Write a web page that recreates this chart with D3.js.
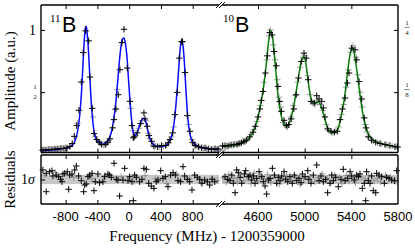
<!DOCTYPE html>
<html><head><meta charset="utf-8">
<script src="https://cdn.jsdelivr.net/npm/d3@7"></script>
<style>
html,body{margin:0;padding:0;background:#fff;}
svg{display:block;}
.serif{font-family:"Liberation Serif","Times New Roman",serif;}
.sans{font-family:"Liberation Sans",Arial,sans-serif;}
</style></head>
<body>
<svg id="chart" width="415" height="249"></svg>
<script>
// ---------------- DATA ----------------
const ticksLeft = [-800, -400, 0, 400, 800];
const ticksRight = [4600, 5000, 5400, 5800];
const domainLeft = [-1110, 1131];
const domainRight = [4291, 5800];
const ampTicksLeft = [1, 0.5];
const ampTicksRight = [0.25, 0.125];

// 11B measured points (scan A, black): [MHz, amplitude]
const b11ScanA = [[-1085,0.035],[-1048,0.035],[-1010,0.039],[-972,0.039],[-934,0.043],[-897,0.043],[-859,0.047],[-821,0.047],[-783,0.051],[-746,0.063],[-717,0.087],[-691,0.145],[-661,0.231],[-632,0.354],[-603,0.581],[-578,0.818],[-548,0.992],[-510,0.912],[-494,0.621],[-465,0.370],[-443,0.167],[-409,0.119],[-377,0.097],[-346,0.079],[-301,0.079],[-271,0.097],[-242,0.125],[-208,0.213],[-191,0.279],[-166,0.365],[-137,0.479],[-116,0.680],[-91,0.898],[-65,1.005],[-24,0.693],[10,0.426],[35,0.231],[52,0.133],[64,0.141],[102,0.173],[145,0.247],[186,0.333],[199,0.285],[228,0.226],[249,0.151],[283,0.105],[312,0.065],[359,0.061],[409,0.071],[460,0.071],[492,0.093],[514,0.119],[548,0.173],[577,0.319],[606,0.498],[631,0.773],[661,0.906],[672,0.905],[703,0.658],[732,0.311],[766,0.185],[800,0.097],[829,0.071],[871,0.061],[913,0.053],[955,0.053],[996,0.045],[1039,0.039],[1081,0.045],[1118,0.043]];
// 11B measured points (scan B, grey)
const b11ScanB = [[-1100,0.032],[-1065,0.036],[-1030,0.037],[-990,0.040],[-950,0.041],[-915,0.045],[-875,0.046],[-840,0.050],[-800,0.055],[-650,0.25],[-455,0.30],[-425,0.14],[-390,0.105],[-360,0.09],[-320,0.075],[-285,0.085],[-255,0.11],[-180,0.36],[-150,0.52],[20,0.37],[45,0.19],[80,0.15],[120,0.21],[160,0.27],[210,0.27],[240,0.17],[265,0.125],[300,0.075],[335,0.065],[385,0.062],[430,0.066],[475,0.077],[530,0.14],[560,0.22],[750,0.24],[790,0.12],[815,0.085],[845,0.067],[890,0.058],[935,0.050],[975,0.047],[1020,0.043],[1060,0.041],[1100,0.040],[1130,0.038]];
// 11B fit
const b11Fit = [[-1110,0.030],[-1000,0.034],[-900,0.040],[-800,0.050],[-750,0.060],[-700,0.085],[-670,0.13],[-640,0.22],[-620,0.33],[-600,0.50],[-580,0.74],[-565,0.92],[-550,1.02],[-540,1.03],[-530,0.98],[-515,0.86],[-500,0.68],[-485,0.50],[-470,0.35],[-450,0.22],[-430,0.15],[-400,0.11],[-370,0.088],[-340,0.080],[-310,0.085],[-280,0.10],[-250,0.13],[-220,0.19],[-200,0.26],[-180,0.35],[-160,0.47],[-140,0.62],[-120,0.77],[-100,0.88],[-80,0.93],[-65,0.935],[-50,0.90],[-30,0.80],[-10,0.62],[10,0.43],[30,0.28],[50,0.18],[70,0.15],[90,0.16],[110,0.19],[130,0.23],[150,0.265],[175,0.29],[195,0.285],[215,0.25],[235,0.19],[255,0.14],[280,0.10],[310,0.075],[350,0.065],[400,0.063],[450,0.068],[490,0.085],[520,0.12],[545,0.17],[565,0.25],[585,0.37],[605,0.52],[625,0.70],[640,0.83],[655,0.91],[665,0.915],[680,0.86],[695,0.74],[710,0.57],[725,0.41],[740,0.28],[760,0.18],[780,0.125],[810,0.09],[850,0.07],[900,0.057],[950,0.050],[1000,0.045],[1050,0.042],[1100,0.040],[1131,0.039]];

// 10B measured points (scan A, black)
const b10ScanA = [[4295,0.0168],[4317,0.0178],[4343,0.0168],[4369,0.0188],[4394,0.0198],[4420,0.0198],[4437,0.0218],[4457,0.0232],[4480,0.0258],[4500,0.0284],[4529,0.0352],[4557,0.0444],[4577,0.0564],[4600,0.0752],[4615,0.0912],[4628,0.1084],[4643,0.1264],[4663,0.1633],[4680,0.1979],[4700,0.2445],[4720,0.2399],[4737,0.2065],[4757,0.1779],[4771,0.1364],[4786,0.1064],[4800,0.0864],[4823,0.0684],[4843,0.0578],[4863,0.0598],[4884,0.0712],[4907,0.0912],[4927,0.1198],[4947,0.1533],[4971,0.1865],[4994,0.2033],[5014,0.1933],[5031,0.1499],[5054,0.1064],[5082,0.1032],[5103,0.1178],[5123,0.1112],[5146,0.1064],[5160,0.0932],[5174,0.0752],[5197,0.0512],[5226,0.0464],[5254,0.0444],[5280,0.0464],[5303,0.0698],[5323,0.0912],[5346,0.1132],[5366,0.1433],[5380,0.1633],[5403,0.2133],[5432,0.2099],[5446,0.1899],[5466,0.1464],[5489,0.1112],[5511,0.0732],[5526,0.0532],[5545,0.0352],[5574,0.0284],[5609,0.0244],[5646,0.0218],[5689,0.0198],[5731,0.0178],[5774,0.0152],[5797,0.0148]];
// 10B measured points (scan B, grey)
const b10ScanB = [[4300,0.017],[4330,0.0165],[4355,0.019],[4385,0.018],[4410,0.021],[4445,0.022],[4470,0.027],[4490,0.026],[4510,0.031],[4540,0.040],[4565,0.050],[4590,0.066],[4620,0.098],[4650,0.145],[4675,0.19],[4695,0.238],[4705,0.25],[4730,0.22],[4745,0.19],[4765,0.15],[4780,0.115],[4795,0.095],[4815,0.064],[4833,0.060],[4850,0.054],[4880,0.075],[4900,0.098],[4920,0.118],[4940,0.145],[4960,0.175],[4985,0.195],[5000,0.198],[5025,0.158],[5045,0.12],[5070,0.103],[5090,0.100],[5110,0.108],[5135,0.100],[5155,0.088],[5185,0.060],[5205,0.048],[5235,0.043],[5260,0.047],[5290,0.055],[5315,0.080],[5335,0.100],[5355,0.135],[5375,0.17],[5395,0.205],[5415,0.218],[5440,0.195],[5455,0.16],[5475,0.125],[5495,0.095],[5520,0.060],[5535,0.045],[5560,0.033],[5590,0.027],[5625,0.023],[5660,0.021],[5700,0.019],[5715,0.018],[5750,0.017],[5785,0.0155]];
// 10B fit
const b10Fit = [[4291,0.016],[4350,0.017],[4420,0.019],[4480,0.024],[4520,0.032],[4550,0.042],[4580,0.058],[4610,0.085],[4630,0.11],[4650,0.14],[4670,0.18],[4685,0.215],[4700,0.242],[4712,0.248],[4725,0.235],[4740,0.20],[4755,0.16],[4770,0.12],[4790,0.088],[4810,0.068],[4830,0.058],[4850,0.056],[4870,0.064],[4890,0.08],[4910,0.102],[4930,0.13],[4950,0.16],[4970,0.185],[4990,0.196],[5005,0.19],[5020,0.165],[5040,0.13],[5060,0.108],[5080,0.102],[5100,0.105],[5115,0.106],[5130,0.102],[5150,0.09],[5170,0.073],[5190,0.057],[5210,0.047],[5240,0.043],[5270,0.046],[5295,0.058],[5320,0.085],[5345,0.12],[5365,0.16],[5385,0.195],[5405,0.215],[5420,0.208],[5440,0.18],[5460,0.145],[5480,0.11],[5500,0.08],[5520,0.058],[5545,0.042],[5580,0.030],[5620,0.024],[5680,0.020],[5740,0.017],[5800,0.015]];

// residuals in units of sigma
const resLeftA = [[-1086,2.06],[-1044,-2.64],[-1044,1.34],[-1001,1.69],[-972,1.90],[-960,0.76],[-918,0.97],[-888,0.61],[-863,0.04],[-846,-0.48],[-834,1.19],[-812,1.34],[-780,1.69],[-762,-2.12],[-749,0.97],[-720,1.19],[-686,2.06],[-666,2.92],[-636,0.76],[-603,-0.26],[-573,-2.64],[-560,-1.19],[-540,-0.97],[-519,0.61],[-497,0.97],[-468,1.34],[-443,-2.42],[-427,-0.48],[-393,1.19],[-372,-0.69],[-330,-0.48],[-309,0.61],[-267,1.19],[-246,0.97],[-225,0.48],[-191,3.51],[-162,0.04],[-141,-0.11],[-120,-3.57],[-78,-0.11],[-57,2.42],[-15,-0.26],[6,0.61],[35,-0.48],[52,-4.59],[69,0.97],[90,0.48],[132,-0.48],[161,0.04],[186,2.42],[216,2.21],[246,-0.82],[278,-1.41],[312,-1.91],[341,-0.48],[363,-0.11],[397,1.90],[426,0.26],[455,0.61],[489,-1.56],[522,0.97],[552,1.47],[581,0.97],[615,-0.26],[648,-0.48],[678,2.77],[699,0.76],[732,0.04],[762,-0.48],[791,-2.27],[825,0.97],[858,0.48],[888,0.04],[917,-0.82],[951,-0.11],[984,-0.48],[1014,-1.19],[1043,0.04],[1077,-0.48]];
const resLeftB = [[-1070,1.0],[-930,1.5],[-700,0.4],[-480,0.2],[-300,0.9],[-100,0.6],[60,-0.5],[200,0.9],[330,0.2],[470,-0.9],[600,1.2],[760,0.3],[900,-0.6],[1050,0.3],[1110,-0.2]];
const resRightA = [[4317,0.61],[4340,0.04],[4360,-0.26],[4375,0.97],[4388,-0.82],[4403,-2.86],[4417,2.06],[4431,1.47],[4446,0.48],[4460,-0.82],[4483,1.19],[4494,1.90],[4517,0.61],[4531,0.97],[4546,-0.11],[4560,0.76],[4574,-0.82],[4589,0.26],[4609,1.69],[4632,0.61],[4645,-0.48],[4660,-1.41],[4674,-3.14],[4688,-0.11],[4703,0.26],[4723,2.42],[4740,0.97],[4760,-0.82],[4774,0.48],[4789,-0.26],[4803,0.76],[4823,1.69],[4837,0.04],[4855,-0.48],[4874,0.61],[4894,-0.82],[4911,0.97],[4932,-0.26],[4951,0.26],[4969,-0.69],[4980,1.19],[5003,0.61],[5026,1.90],[5035,0.04],[5054,-0.82],[5074,0.97],[5103,3.14],[5123,-0.26],[5140,0.76],[5160,-0.48],[5180,0.04],[5197,-2.86],[5217,-0.82],[5232,0.97],[5246,-0.26],[5266,0.48],[5288,-1.56],[5311,0.04],[5331,2.21],[5346,-0.26],[5369,0.26],[5389,1.69],[5403,0.76],[5425,-0.11],[5446,0.97],[5460,0.61],[5474,1.19],[5494,-1.91],[5511,-0.82],[5523,-4.59],[5531,1.69],[5545,-0.26],[5560,-0.82],[5574,0.76],[5588,-2.42],[5609,-2.86],[5617,1.34],[5637,0.97],[5660,0.61],[5683,-0.82],[5703,0.48],[5723,0.26],[5746,-0.11],[5769,-0.26],[5789,1.90]];
const resRightB = [[4300,0.3],[4328,-0.6],[4350,1.1],[4396,0.2],[4425,-0.5],[4452,1.3],[4475,-0.3],[4505,0.5],[4540,-0.9],[4567,1.4],[4597,-0.4],[4620,0.9],[4652,0.2],[4680,1.1],[4712,-0.7],[4748,0.4],[4782,-1.0],[4815,0.3],[4846,1.0],[4885,-0.2],[4920,0.5],[4960,-1.1],[4990,0.2],[5045,0.6],[5085,-0.5],[5115,0.4],[5150,1.2],[5190,0.3],[5225,-0.6],[5257,1.0],[5300,0.5],[5320,-0.9],[5357,0.9],[5380,-0.4],[5414,0.3],[5436,-0.7],[5484,0.5],[5520,0.1],[5550,0.9],[5595,-0.3],[5625,0.2],[5650,-0.5],[5693,0.9],[5735,0.5],[5778,-0.4]];

// ---------------- CHART ----------------
const svg = d3.select("#chart");
const L = {x0: 41, xb0: 219, xb1: 222, x1: 398, top: 5, mid: 152.5, rtop: 155, rbot: 204};

const xL = d3.scaleLinear().domain(domainLeft).range([L.x0, L.xb0]);
const xR = d3.scaleLinear().domain(domainRight).range([L.xb1, L.x1]);
const yA = d3.scaleLinear().domain([0.015, 1.2]).range([L.mid, L.top]);
const yB = d3.scaleLinear().domain([0.015 / 4, 0.3]).range([L.mid, L.top]);
const yR = d3.scaleLinear().domain([-5.3, 5.3]).range([L.rbot, L.rtop]);

// residual band
svg.append("rect").attr("x", L.x0).attr("width", L.xb0 - L.x0)
  .attr("y", yR(1)).attr("height", yR(-1) - yR(1)).attr("fill", "#c8c8c8");
svg.append("rect").attr("x", L.xb1).attr("width", L.x1 - L.xb1)
  .attr("y", yR(1)).attr("height", yR(-1) - yR(1)).attr("fill", "#c8c8c8");

function crosses(data, xs, ys, color, op) {
  svg.append("path")
    .attr("d", data.map(d => {
      const x = xs(d[0]), y = ys(d[1]);
      return `M${x - 3.2},${y}H${x + 3.2}M${x},${y - 3.2}V${y + 3.2}`;
    }).join(""))
    .attr("stroke", color).attr("stroke-width", 1).attr("fill", "none").attr("opacity", op);
}
function fitLine(data, xs, ys, color) {
  svg.append("path").datum(data)
    .attr("d", d3.line().x(d => xs(d[0])).y(d => ys(d[1])).curve(d3.curveMonotoneX))
    .attr("stroke", color).attr("stroke-width", 1.5).attr("fill", "none");
}

crosses(b11ScanB, xL, yA, "#888", 0.8);
crosses(b10ScanB, xR, yB, "#888", 0.8);
fitLine(b11Fit, xL, yA, "#0a0aff");
fitLine(b10Fit, xR, yB, "#0a7a0a");
crosses(b11ScanA, xL, yA, "#000", 1);
crosses(b10ScanA, xR, yB, "#000", 1);

crosses(resLeftB, xL, yR, "#888", 0.8);
crosses(resRightB, xR, yR, "#888", 0.8);
crosses(resLeftA, xL, yR, "#000", 1);
crosses(resRightA, xR, yR, "#000", 1);

// spines
const sp = svg.append("g").attr("stroke", "#000").attr("stroke-width", 1.4).attr("fill", "none");
[[L.top, L.mid], [L.rtop, L.rbot]].forEach(([t, b]) => {
  sp.append("line").attr("x1", L.x0).attr("x2", L.x0).attr("y1", t).attr("y2", b);
  sp.append("line").attr("x1", L.x1).attr("x2", L.x1).attr("y1", t).attr("y2", b);
  [t, b].forEach(y => {
    sp.append("line").attr("x1", L.x0).attr("x2", L.xb0).attr("y1", y).attr("y2", y);
    sp.append("line").attr("x1", L.xb1).attr("x2", L.x1).attr("y1", y).attr("y2", y);
    [L.xb0, L.xb1].forEach(x => {
      sp.append("line").attr("x1", x - 3).attr("x2", x + 3).attr("y1", y + 3).attr("y2", y - 3).attr("stroke-width", 1);
    });
  });
});

// tick marks (inward) via d3 axes
function ticksOnly(axis, transform) {
  const g = svg.append("g").attr("transform", transform).call(axis);
  g.select(".domain").remove();
  g.selectAll("text").remove();
  g.selectAll("line").attr("stroke", "#000").attr("stroke-width", 1);
  return g;
}
[L.mid, L.rbot].forEach(y => {
  ticksOnly(d3.axisBottom(xL).tickValues(ticksLeft).tickSize(-4), `translate(0,${y})`);
  ticksOnly(d3.axisBottom(xR).tickValues(ticksRight.filter(t => t < 5800)).tickSize(-4), `translate(0,${y})`);
});
[L.top, L.rtop].forEach(y => {
  ticksOnly(d3.axisTop(xL).tickValues(ticksLeft).tickSize(-4), `translate(0,${y})`);
  ticksOnly(d3.axisTop(xR).tickValues(ticksRight.filter(t => t < 5800)).tickSize(-4), `translate(0,${y})`);
});
ticksOnly(d3.axisLeft(yA).tickValues(ampTicksLeft).tickSize(-4), `translate(${L.x0},0)`);
ticksOnly(d3.axisRight(yB).tickValues(ampTicksRight).tickSize(-4), `translate(${L.x1},0)`);
ticksOnly(d3.axisLeft(yR).tickValues([0]).tickSize(-4), `translate(${L.x0},0)`);

// x tick labels
function xLabels(ticks, xs) {
  svg.append("g").selectAll("text").data(ticks).join("text")
    .attr("class", "sans").attr("x", d => xs(d)).attr("y", 220.5)
    .attr("text-anchor", "middle").attr("font-size", 13).attr("fill", "#000")
    .text(d => String(d));
}
xLabels(ticksLeft, xL);
xLabels(ticksRight, xR);

// y tick labels
svg.append("text").attr("class", "serif").attr("x", 36).attr("y", yA(1) + 5)
  .attr("text-anchor", "end").attr("font-size", 14).text("1");
function frac(x, y, num, den, size, bar) {
  const g = svg.append("g").attr("class", "serif").attr("font-size", size)
    .attr("text-anchor", "middle").attr("fill", "#222");
  g.append("text").attr("x", x).attr("y", y - 4.8).text(num);
  g.append("text").attr("x", x).attr("y", y + 5.2).text(den);
  if (bar) g.append("line").attr("x1", x - 2.6).attr("x2", x + 2.6).attr("y1", y - 2.6).attr("y2", y - 2.6)
    .attr("stroke", "#333").attr("stroke-width", 0.6);
}
frac(35, yA(0.5) + 1.5, "1", "2", 7, false);
frac(407, yB(0.25), "1", "4", 7, true);
frac(407, yB(0.125), "1", "8", 7, true);
svg.append("text").attr("class", "serif").attr("x", 35).attr("y", yR(0) + 4.5)
  .attr("text-anchor", "end").attr("font-size", 14).html("1<tspan font-style='italic'>σ</tspan>");

// isotope labels
function iso(x, mass) {
  svg.append("text").attr("class", "serif").attr("x", x).attr("y", 21.5).attr("font-size", 11).text(mass);
  svg.append("text").attr("class", "sans").attr("x", x + 12).attr("y", 31.5).attr("font-size", 21.5).text("B");
}
iso(50, "11");
iso(223, "10");

// axis titles
svg.append("text").attr("class", "serif").attr("transform", "translate(15,81) rotate(-90)")
  .attr("text-anchor", "middle").attr("font-size", 15).text("Amplitude (a.u.)");
svg.append("text").attr("class", "serif").attr("transform", "translate(15,179.5) rotate(-90)")
  .attr("text-anchor", "middle").attr("font-size", 15).text("Residuals");
svg.append("text").attr("class", "serif").attr("x", 207).attr("y", 241)
  .attr("text-anchor", "middle").attr("font-size", 15).text("Frequency (MHz) - 1200359000");
</script>
</body></html>
